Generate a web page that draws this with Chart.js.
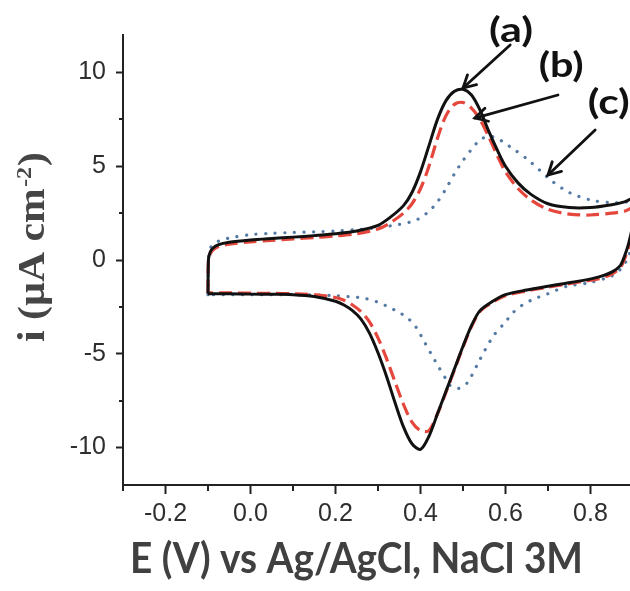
<!DOCTYPE html>
<html><head><meta charset="utf-8">
<script src="https://cdn.jsdelivr.net/npm/chart.js@4.4.0/dist/chart.umd.min.js"></script>
<style>html,body{margin:0;padding:0;background:#fff;overflow:hidden}#wrap{width:630px;height:591px;position:relative}</style>
</head><body><div id="wrap"><canvas id="c"></canvas></div>
<script>
// ---- tick values ----
const xTicks = [-0.2, 0.0, 0.2, 0.4, 0.6, 0.8];
const xMinorTicks = [-0.3, -0.1, 0.1, 0.3, 0.5, 0.7];
const yTicks = [-10, -5, 0, 5, 10];
const yMinorTicks = [-7.5, -2.5, 2.5, 7.5];

// ---- potentials (V) for curves a and b ----
const fwdE = [-0.1, -0.099, -0.096, -0.09, -0.075, -0.05, 0.0, 0.05, 0.1, 0.15, 0.2, 0.25, 0.3, 0.33, 0.36, 0.38, 0.40, 0.42, 0.44, 0.46, 0.48, 0.50, 0.52, 0.54, 0.56, 0.58, 0.60, 0.63, 0.66, 0.70, 0.75, 0.80, 0.85, 0.88, 0.9];
const revE = [0.9, 0.89, 0.88, 0.87, 0.85, 0.82, 0.78, 0.74, 0.70, 0.65, 0.60, 0.57, 0.54, 0.52, 0.50, 0.48, 0.46, 0.44, 0.42, 0.40, 0.38, 0.36, 0.34, 0.32, 0.30, 0.28, 0.26, 0.24, 0.22, 0.20, 0.15, 0.10, 0.05, 0.0, -0.05, -0.1];

// ---- curve (a) black solid ----
const aFwdI = [-1.8, 0.0, 0.35, 0.6, 0.82, 0.95, 1.07, 1.15, 1.22, 1.3, 1.4, 1.55, 1.85, 2.3, 2.9, 3.6, 4.7, 6.1, 7.5, 8.5, 9.0, 9.1, 8.8, 8.0, 6.9, 5.9, 5.0, 4.1, 3.5, 3.0, 2.8, 2.8, 2.95, 3.1, 3.25];
const aRevI = [2.0, 0.9, 0.2, -0.3, -0.65, -0.9, -1.1, -1.25, -1.4, -1.6, -1.85, -2.2, -2.7, -3.5, -4.6, -5.8, -7.0, -8.2, -9.4, -10.1, -9.8, -8.9, -7.6, -6.2, -4.95, -3.9, -3.15, -2.7, -2.4, -2.2, -1.95, -1.85, -1.83, -1.82, -1.8, -1.8];

// ---- curve (b) red dashed ----
const bFwdI = [-1.75, -0.1, 0.25, 0.5, 0.72, 0.85, 0.97, 1.05, 1.12, 1.2, 1.28, 1.4, 1.65, 2.0, 2.5, 3.0, 3.8, 5.0, 6.5, 7.7, 8.3, 8.4, 8.1, 7.5, 6.6, 5.6, 4.7, 3.8, 3.2, 2.7, 2.45, 2.4, 2.5, 2.6, 2.75];
const bRevI = [1.6, 0.7, 0.05, -0.4, -0.75, -1.0, -1.15, -1.3, -1.45, -1.65, -1.9, -2.25, -2.75, -3.55, -4.65, -5.85, -7.05, -8.2, -9.1, -9.1, -8.65, -7.7, -6.5, -5.25, -4.15, -3.3, -2.75, -2.4, -2.15, -2.0, -1.85, -1.8, -1.78, -1.77, -1.75, -1.75];

// ---- curve (c) blue dotted ----
const cFwdE = [-0.1, -0.098, -0.093, -0.085, -0.07, -0.05, 0.0, 0.05, 0.1, 0.15, 0.2, 0.25, 0.3, 0.35, 0.38, 0.40, 0.42, 0.44, 0.46, 0.48, 0.50, 0.52, 0.54, 0.56, 0.58, 0.60, 0.62, 0.65, 0.68, 0.71, 0.75, 0.80, 0.85, 0.9];
const cFwdI = [-1.85, 0.3, 0.7, 0.9, 1.05, 1.17, 1.35, 1.42, 1.47, 1.5, 1.55, 1.62, 1.72, 1.9, 2.05, 2.25, 2.6, 3.1, 3.8, 4.6, 5.3, 5.9, 6.4, 6.6, 6.5, 6.2, 5.9, 5.4, 4.8, 4.2, 3.6, 3.2, 3.05, 3.0];
const cRevE = [0.9, 0.89, 0.87, 0.85, 0.80, 0.745, 0.70, 0.665, 0.64, 0.618, 0.60, 0.57, 0.54, 0.51, 0.49, 0.47, 0.46, 0.44, 0.43, 0.41, 0.39, 0.37, 0.35, 0.32, 0.30, 0.27, 0.23, 0.2, 0.1, 0.0, -0.1];
const cRevI = [1.5, 0.2, -0.5, -0.85, -1.2, -1.4, -1.8, -2.1, -2.4, -2.8, -3.3, -4.1, -5.3, -6.55, -6.85, -6.7, -6.35, -5.6, -5.2, -4.4, -3.6, -3.1, -2.8, -2.45, -2.25, -2.05, -1.95, -1.9, -1.85, -1.85, -1.85];

// ---- annotations (data coordinates) ----
const annoLabels = ['(a)', '(b)', '(c)'];
const annoTextE = [0.613, 0.731, 0.843];
const annoTextI = [12.27, 10.4, 8.45];
const arrowFromE = [0.611, 0.7235, 0.811];
const arrowFromI = [11.47, 8.8, 6.93];
const arrowToE = [0.5, 0.528, 0.7];
const arrowToI = [9.17, 7.57, 4.53];

const xTitle = 'E (V) vs Ag/AgCl, NaCl 3M';
const yTitleMain = 'i (\u00B5A cm';
const yTitleSup = '-2';
const yTitleEnd = ')';

function loop(fE, fI, rE, rI) {
  const pts = fE.map((e, i) => ({x: e, y: fI[i]}));
  return pts.concat(rE.map((e, i) => ({x: e, y: rI[i]})));
}

function fitText(ctx, txt, cx, cy, font, width) {
  ctx.save();
  ctx.font = font;
  const w = ctx.measureText(txt).width;
  ctx.translate(cx, cy);
  ctx.scale(width / w, 1);
  ctx.textAlign = 'center';
  ctx.fillText(txt, 0, 0);
  ctx.restore();
}

const deco = {
  id: 'deco',
  afterDraw(chart) {
    const {ctx, chartArea: ca} = chart;
    const x = chart.scales.x, y = chart.scales.y;
    ctx.save();
    // minor ticks
    ctx.strokeStyle = '#222'; ctx.lineWidth = 2;
    xMinorTicks.forEach(v => { const px = Math.round(x.getPixelForValue(v)); ctx.beginPath(); ctx.moveTo(px, ca.bottom); ctx.lineTo(px, ca.bottom + 6); ctx.stroke(); });
    yMinorTicks.forEach(v => { const py = Math.round(y.getPixelForValue(v)); ctx.beginPath(); ctx.moveTo(ca.left, py); ctx.lineTo(ca.left - 4, py); ctx.stroke(); });

    // annotations
    ctx.fillStyle = '#111'; ctx.strokeStyle = '#111'; ctx.lineWidth = 2.8; ctx.lineCap = 'round';
    const widths = [44, 45, 42];
    annoLabels.forEach((t, i) => {
      ctx.textBaseline = 'middle';
      fitText(ctx, t, x.getPixelForValue(annoTextE[i]), y.getPixelForValue(annoTextI[i]) + 1, 'bold 35px Lato', widths[i]);
      const x0 = x.getPixelForValue(arrowFromE[i]), y0 = y.getPixelForValue(arrowFromI[i]);
      const x1 = x.getPixelForValue(arrowToE[i]), y1 = y.getPixelForValue(arrowToI[i]);
      ctx.beginPath(); ctx.moveTo(x0, y0); ctx.lineTo(x1, y1); ctx.stroke();
      const ang = Math.atan2(y1 - y0, x1 - x0), L = 14, a = 0.5;
      ctx.beginPath();
      ctx.moveTo(x1 - L * Math.cos(ang - a), y1 - L * Math.sin(ang - a));
      ctx.lineTo(x1, y1);
      ctx.lineTo(x1 - L * Math.cos(ang + a), y1 - L * Math.sin(ang + a));
      ctx.stroke();
    });

    // x title
    ctx.fillStyle = '#404040';
    ctx.textBaseline = 'alphabetic';
    fitText(ctx, xTitle, 356.5, 573, 'bold 42px Lato', 453);

    // y title (rotated, with superscript)
    ctx.save();
    ctx.fillStyle = '#454545';
    ctx.translate(44, 247);
    ctx.rotate(-Math.PI / 2);
    const fMain = 'bold 38px "Liberation Serif"', fSup = 'bold 22px "Liberation Serif"';
    ctx.font = fMain; const w1 = ctx.measureText(yTitleMain).width, w3 = ctx.measureText(yTitleEnd).width;
    ctx.font = fSup; const w2 = ctx.measureText(yTitleSup).width;
    const total = w1 + w2 + w3 + 2;
    const s = 190 / total;
    ctx.scale(s, 1);
    ctx.textAlign = 'left'; ctx.textBaseline = 'alphabetic';
    let u = -total / 2;
    ctx.font = fMain; ctx.fillText(yTitleMain, u, 0); u += w1 + 1;
    ctx.font = fSup; ctx.fillText(yTitleSup, u, -13); u += w2 + 1;
    ctx.font = fMain; ctx.fillText(yTitleEnd, u, 0);
    ctx.restore();

    ctx.restore();
  }
};

const tickFont = {family: '"Liberation Sans", Arial, sans-serif', size: 25};

new Chart(document.getElementById('c'), {
  type: 'scatter',
  data: {
    datasets: [
      {label: '(a)', data: loop(fwdE, aFwdI, revE, aRevI), showLine: true, borderColor: '#111111', borderWidth: 3, pointRadius: 0, tension: 0.3, order: 1, clip: 0},
      {label: '(b)', data: loop(fwdE, bFwdI, revE, bRevI), showLine: true, borderColor: '#e5473d', borderWidth: 3.2, borderDash: [13, 6], pointRadius: 0, tension: 0.3, order: 2, clip: 0},
      {label: '(c)', data: loop(cFwdE, cFwdI, cRevE, cRevI), showLine: true, borderColor: '#557aa3', borderWidth: 3.2, borderDash: [0.1, 9.5], borderCapStyle: 'round', pointRadius: 0, tension: 0.3, order: 3, clip: 0}
    ]
  },
  options: {
    responsive: true, maintainAspectRatio: false, animation: false,
    layout: {padding: {top: 35, left: 0, right: 0, bottom: 0}},
    plugins: {legend: {display: false}, tooltip: {enabled: false}},
    scales: {
      x: {
        type: 'linear', min: -0.3, max: 0.893,
        afterBuildTicks: s => { s.ticks = xTicks.map(v => ({value: v})); },
        afterFit: s => { s.height = 106; },
        ticks: {callback: v => Number(v).toFixed(1), font: tickFont, color: '#2e2e2e', padding: 5, maxRotation: 0, autoSkip: false},
        grid: {drawOnChartArea: false, drawTicks: true, tickLength: 9, tickColor: '#222', tickWidth: 2},
        border: {display: true, color: '#222', width: 2}
      },
      y: {
        type: 'linear', min: -12, max: 12,
        afterBuildTicks: s => { s.ticks = yTicks.map(v => ({value: v})); },
        afterFit: s => { s.width = 123; },
        ticks: {callback: v => String(v), font: tickFont, color: '#2e2e2e', padding: 10, autoSkip: false},
        grid: {drawOnChartArea: false, drawTicks: true, tickLength: 7, tickColor: '#222', tickWidth: 2},
        border: {display: true, color: '#222', width: 2}
      }
    }
  },
  plugins: [deco]
});
</script>
</body></html>
